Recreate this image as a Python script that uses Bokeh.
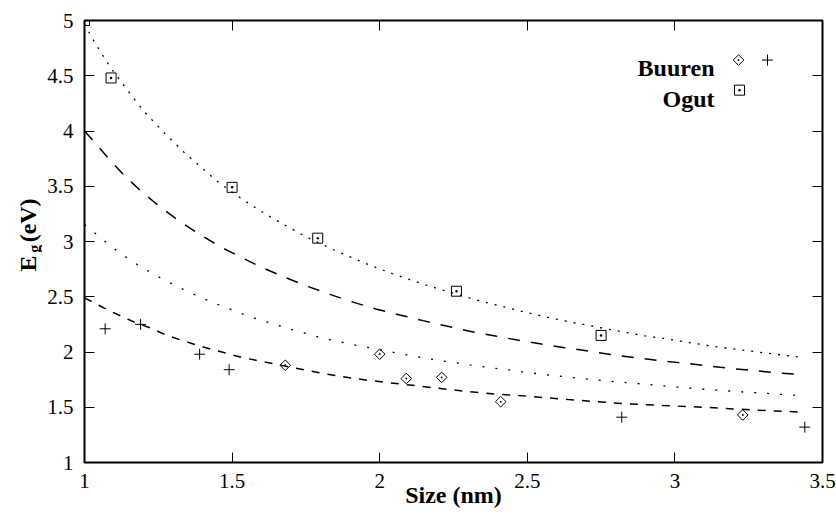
import numpy as np
from bokeh.plotting import figure
from bokeh.layouts import row
from bokeh.models import (Range1d, LinearAxis, FixedTicker, CustomJSTickFormatter,
                          ColumnDataSource)
from bokeh.core.properties import value
from bokeh.embed import file_html
from bokeh.resources import INLINE

# ---------------- data ----------------
x_ticks = [1.0, 1.5, 2.0, 2.5, 3.0, 3.5]
x_tick_labels = ["1", "1.5", "2", "2.5", "3", "3.5"]
y_ticks = [1.0, 1.5, 2.0, 2.5, 3.0, 3.5, 4.0, 4.5, 5.0]
y_tick_labels = ["1", "1.5", "2", "2.5", "3", "3.5", "4", "4.5", "5"]

# Ogut (squares)
ogut_x = [1.00, 1.09, 1.50, 1.79, 2.26, 2.75]
ogut_y = [5.00, 4.48, 3.49, 3.03, 2.55, 2.15]

# Buuren (diamonds)
buuren_d_x = [1.68, 2.00, 2.09, 2.21, 2.41, 3.23]
buuren_d_y = [1.88, 1.98, 1.76, 1.77, 1.55, 1.43]

# Buuren (crosses)
buuren_p_x = [1.07, 1.19, 1.39, 1.49, 2.82, 3.44]
buuren_p_y = [2.21, 2.25, 1.98, 1.84, 1.41, 1.32]

# fitted curves
fit_top_x = [1.00, 1.02, 1.054, 1.088, 1.145, 1.203, 1.269, 1.336, 1.407, 1.455, 1.532,
             1.586, 1.640, 1.695, 1.751, 1.837, 1.895, 1.953, 2.042, 2.102, 2.163, 2.223,
             2.285, 2.344, 2.404, 2.466, 2.528, 2.590, 2.652, 2.714, 2.776, 2.838, 2.900,
             2.962, 3.024, 3.087, 3.149, 3.213, 3.275, 3.338, 3.401, 3.435]
fit_top_y = [4.97, 4.868, 4.717, 4.575, 4.370, 4.173, 3.986, 3.810, 3.644, 3.532, 3.387,
             3.293, 3.206, 3.124, 3.042, 2.933, 2.867, 2.800, 2.710, 2.655, 2.601, 2.553,
             2.504, 2.459, 2.420, 2.377, 2.338, 2.302, 2.268, 2.238, 2.205, 2.175, 2.145,
             2.123, 2.096, 2.069, 2.045, 2.023, 2.002, 1.981, 1.960, 1.951]

fit_long_x = [1.000, 1.026, 1.079, 1.135, 1.195, 1.257, 1.323, 1.391, 1.463, 1.534, 1.607,
              1.683, 1.758, 1.834, 1.912, 1.986, 2.068, 2.147, 2.226, 2.305, 2.387, 2.466,
              2.548, 2.627, 2.708, 2.788, 2.869, 2.949, 3.030, 3.111, 3.192, 3.273, 3.354,
              3.437]
fit_long_y = [4.000, 3.922, 3.759, 3.596, 3.447, 3.311, 3.181, 3.063, 2.948, 2.852, 2.758,
              2.671, 2.592, 2.519, 2.449, 2.390, 2.335, 2.284, 2.235, 2.187, 2.147, 2.108,
              2.072, 2.039, 2.009, 1.975, 1.948, 1.921, 1.900, 1.873, 1.851, 1.830, 1.809,
              1.794]

fit_mid_x = [1.000, 1.041, 1.111, 1.187, 1.266, 1.348, 1.429, 1.472, 1.557, 1.641, 1.728,
             1.816, 1.904, 2.037, 2.127, 2.215, 2.305, 2.396, 2.483, 2.573, 2.663, 2.754,
             2.844, 2.934, 3.025, 3.115, 3.205, 3.296, 3.386, 3.431]
fit_mid_y = [3.155, 3.063, 2.912, 2.776, 2.658, 2.549, 2.453, 2.410, 2.322, 2.253, 2.184,
             2.120, 2.069, 2.002, 1.957, 1.918, 1.884, 1.851, 1.821, 1.791, 1.766, 1.742,
             1.721, 1.700, 1.678, 1.660, 1.642, 1.628, 1.612, 1.606]

fit_low_x = [1.000, 1.075, 1.128, 1.173, 1.224, 1.274, 1.323, 1.376, 1.427, 1.483, 1.532,
             1.585, 1.641, 1.743, 1.796, 1.850, 1.904, 1.958, 2.065, 2.174, 2.283, 2.390,
             2.500, 2.607, 2.714, 2.821, 2.931, 3.092, 3.200, 3.308, 3.416, 3.437]
fit_low_y = [2.490, 2.386, 2.320, 2.265, 2.217, 2.156, 2.111, 2.066, 2.027, 1.987, 1.951,
             1.923, 1.893, 1.839, 1.812, 1.787, 1.764, 1.745, 1.712, 1.679, 1.646, 1.619,
             1.600, 1.576, 1.555, 1.533, 1.519, 1.501, 1.485, 1.470, 1.458, 1.455]

legend_labels = ["Buuren", "Ogut"]
y_label_parts = ["E", "g", "(eV)"]

FONT = "Liberation Serif"
W, H = 836, 514
LW = 42          # width of the strip carrying the rotated y-axis title

# reference pixel -> data of the main plot
def rx(px):
    return 1 + (px - 84.0) / 295.2

def ry(py):
    return 5 - (py - 20.5) / 110.25

# ---------------- y-axis title strip ----------------
lf = figure(width=LW, height=H, output_backend="svg", toolbar_location=None,
            x_range=Range1d(0, LW), y_range=Range1d(0, H),
            x_axis_location=None, y_axis_location=None,
            min_border_left=0, min_border_right=0, min_border_top=0, min_border_bottom=0)
lf.outline_line_color = None
lf.grid.visible = False
lf.background_fill_color = "white"
lf.border_fill_color = "white"
ysrc = ColumnDataSource(dict(x=[27, 33.5, 27], y=[H - 292, H - 270, H - 258],
                             t=y_label_parts, s=["24px", "16px", "24px"]))
lf.text(x="x", y="y", text="t", source=ysrc, angle=np.pi / 2,
        text_font=value(FONT), text_font_style="bold", text_font_size="s",
        text_align="left", text_baseline="alphabetic", text_color="black")

# ---------------- main plot ----------------
p = figure(width=W - LW, height=H, output_backend="svg", toolbar_location=None,
           x_range=Range1d(1, 3.5), y_range=Range1d(1, 5),
           min_border_left=84 - LW, min_border_right=14, min_border_top=20,
           min_border_bottom=52)
p.background_fill_color = "white"
p.border_fill_color = None
p.outline_line_color = "black"
p.outline_line_width = 2
p.grid.visible = False

def fmt(tvals, tlabels):
    return CustomJSTickFormatter(args=dict(tvals=tvals, tlabels=tlabels), code="""
        for (let i = 0; i < tvals.length; i++) {
            if (Math.abs(tvals[i] - tick) < 1e-9) return tlabels[i];
        }
        return '';
    """)

blank = CustomJSTickFormatter(code="return '';")

for ax in (p.xaxis[0], p.yaxis[0]):
    ax.axis_line_color = None
    ax.major_tick_in = 10
    ax.major_tick_out = 0
    ax.major_tick_line_color = "black"
    ax.major_tick_line_width = 1
    ax.minor_tick_line_color = None
    ax.major_label_text_font = FONT
    ax.major_label_text_font_size = "21px"
    ax.major_label_text_color = "black"

p.xaxis[0].ticker = FixedTicker(ticks=x_ticks)
p.xaxis[0].formatter = fmt(x_ticks, x_tick_labels)
p.xaxis[0].major_label_standoff = 11
p.xaxis[0].axis_label = "Size (nm)"
p.xaxis[0].axis_label_text_font = FONT
p.xaxis[0].axis_label_text_font_size = "24px"
p.xaxis[0].axis_label_text_font_style = "bold"
p.xaxis[0].axis_label_text_color = "black"
p.xaxis[0].axis_label_standoff = -9

p.yaxis[0].ticker = FixedTicker(ticks=y_ticks)
p.yaxis[0].formatter = fmt(y_ticks, y_tick_labels)
p.yaxis[0].major_label_standoff = 11

top = LinearAxis(ticker=FixedTicker(ticks=x_ticks), formatter=blank,
                 axis_line_color=None, major_tick_in=10, major_tick_out=0,
                 minor_tick_line_color=None, major_label_standoff=0,
                 major_tick_line_color="black")
right = LinearAxis(ticker=FixedTicker(ticks=y_ticks), formatter=blank,
                   axis_line_color=None, major_tick_in=10, major_tick_out=0,
                   minor_tick_line_color=None, major_label_standoff=0,
                   major_tick_line_color="black")
p.add_layout(top, "above")
p.add_layout(right, "right")

# curves
p.line(fit_top_x, fit_top_y, line_color="black", line_width=1.3, line_dash="2 7")
p.line(fit_long_x, fit_long_y, line_color="black", line_width=1.5, line_dash="12 11")
p.line(fit_mid_x, fit_mid_y, line_color="black", line_width=1.3, line_dash="2 11")
p.line(fit_low_x, fit_low_y, line_color="black", line_width=1.5, line_dash="8 8")

# points
p.scatter(ogut_x, ogut_y, marker="square_dot", size=10, fill_color=None,
          line_color="black", line_width=1)
p.scatter(buuren_d_x, buuren_d_y, marker="square_dot", size=7.5, angle=np.pi / 4,
          fill_color=None, line_color="black", line_width=1)
p.scatter(buuren_p_x, buuren_p_y, marker="cross", size=11,
          line_color="black", line_width=1)

# key
leg_src = ColumnDataSource(dict(x=[rx(714), rx(714)], y=[ry(68), ry(98.5)], t=legend_labels))
p.text(x="x", y="y", text="t", source=leg_src, text_font=value(FONT),
       text_font_style="bold", text_font_size="24px", text_align="right",
       text_baseline="alphabetic", text_color="black")
p.scatter([rx(738)], [ry(60)], marker="square_dot", size=7.5, angle=np.pi / 4,
          fill_color=None, line_color="black", line_width=1)
p.scatter([rx(767)], [ry(60)], marker="cross", size=11, line_color="black", line_width=1)
p.scatter([rx(739)], [ry(90)], marker="square_dot", size=10, fill_color=None,
          line_color="black", line_width=1)

layout = row(lf, p, spacing=0)
open("out.html", "w").write(file_html(layout, INLINE))
